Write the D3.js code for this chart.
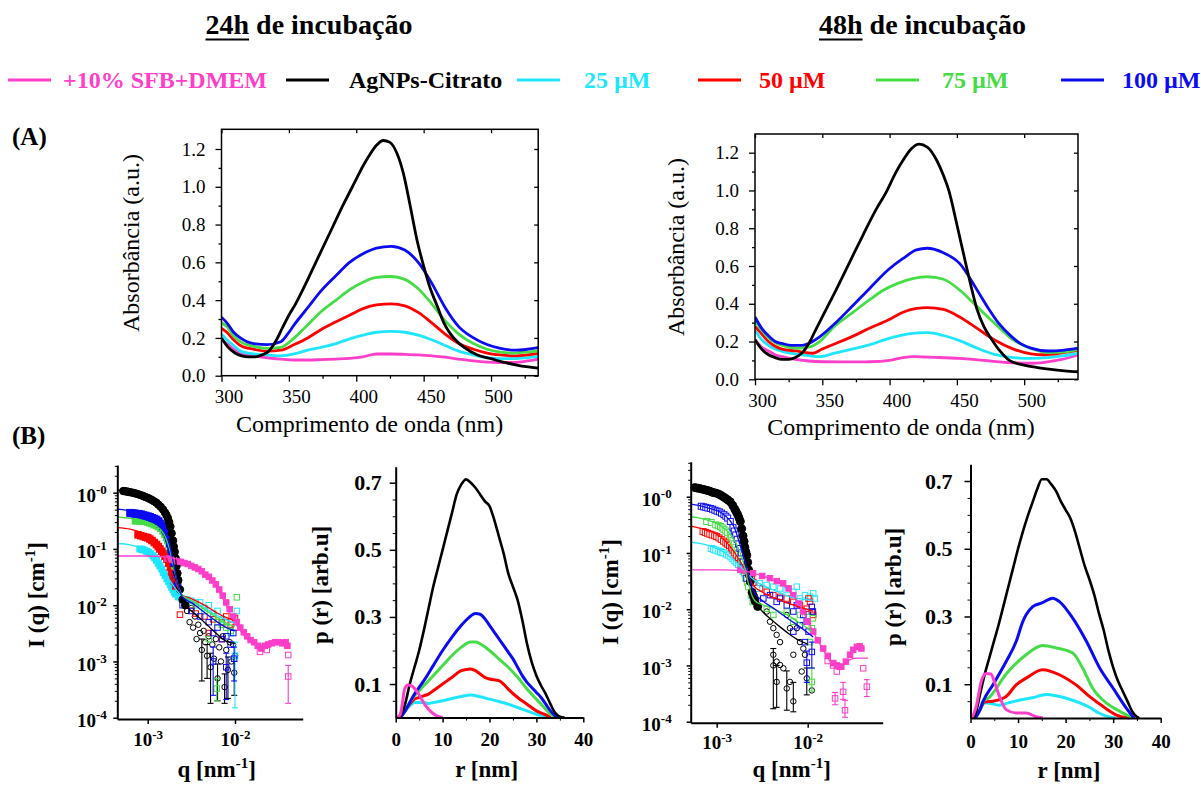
<!DOCTYPE html>
<html lang="pt">
<head>
<meta charset="utf-8">
<title>AgNPs UV-Vis e SAXS</title>
<script src="https://cdn.jsdelivr.net/npm/d3@7/dist/d3.min.js"></script>
<style>
html,body{margin:0;padding:0;background:#fff;}
svg{display:block;}
text{font-family:"Liberation Serif","Times New Roman",Times,serif;}
</style>
</head>
<body>
<svg id="chart" width="1201" height="785" xmlns="http://www.w3.org/2000/svg"></svg>
<script>
// ---------------- series / labels ----------------
const seriesLabels = ["+10% SFB+DMEM", "AgNPs-Citrato", "25 µM", "50 µM", "75 µM", "100 µM"];
const seriesColors = ["#ff3ec9", "#000000", "#1ee6ff", "#ff0000", "#45dc45", "#0c0cf2"];
const titleHours = ["24h", "48h"];
const titleRest = " de incubação";
const panelLetters = ["(A)", "(B)"];
const uvXLabel = "Comprimento de onda (nm)";
const uvYLabel = "Absorbância (a.u.)";

// ---------------- ticks ----------------
const absTicks = [0, 0.2, 0.4, 0.6, 0.8, 1.0, 1.2];
const absTickLabels = ["0.0", "0.2", "0.4", "0.6", "0.8", "1.0", "1.2"];
const wlTicks = [300, 350, 400, 450, 500];
const iqTicksY = [1, 0.1, 0.01, 0.001, 0.0001];
const iqTickExpY = ["-0", "-1", "-2", "-3", "-4"];
const qTicks = [0.001, 0.01];
const qTickExp = ["-3", "-2"];
const prTicksY = [0.1, 0.3, 0.5, 0.7];
const rTicks = [0, 10, 20, 30, 40];

// ---------------- (A) UV-Vis, 24h : [wavelength nm, absorbance] ----------------
const uv24Pink = [[300,0.19],[304,0.17],[309,0.14],[314,0.12],[324,0.105],[334,0.095],[344,0.088],[354,0.083],[364,0.083],[374,0.085],[385,0.088],[395,0.092],[405,0.1],[415,0.115],[426,0.115],[436,0.113],[446,0.11],[456,0.105],[466,0.098],[476,0.088],[487,0.078],[497,0.072],[507,0.07],[517,0.07],[527,0.078],[535,0.088]];
const uv24Black = [[300,0.2],[305,0.15],[310,0.12],[315,0.105],[320,0.1],[325,0.1],[330,0.11],[335,0.13],[340,0.18],[345,0.25],[350,0.32],[355,0.38],[360,0.45],[370,0.6],[380,0.75],[390,0.9],[400,1.04],[405,1.11],[410,1.17],[415,1.22],[420,1.245],[425,1.235],[430,1.18],[435,1.07],[440,0.9],[445,0.72],[450,0.58],[455,0.46],[460,0.37],[465,0.28],[470,0.22],[475,0.18],[480,0.15],[490,0.11],[500,0.09],[510,0.07],[520,0.055],[535,0.04]];
const uv24Cyan = [[300,0.22],[304,0.19],[309,0.16],[314,0.13],[324,0.115],[334,0.11],[344,0.105],[354,0.115],[364,0.135],[374,0.15],[385,0.17],[395,0.195],[405,0.215],[415,0.23],[426,0.235],[436,0.23],[446,0.215],[456,0.19],[466,0.16],[476,0.13],[487,0.11],[497,0.095],[507,0.09],[517,0.09],[527,0.095],[535,0.102]];
const uv24Red = [[300,0.25],[304,0.23],[309,0.19],[314,0.16],[324,0.14],[334,0.13],[344,0.135],[354,0.165],[364,0.2],[374,0.245],[385,0.285],[395,0.32],[405,0.355],[415,0.375],[426,0.38],[436,0.37],[446,0.335],[456,0.28],[466,0.22],[476,0.17],[487,0.14],[497,0.12],[507,0.11],[517,0.105],[527,0.11],[535,0.118]];
const uv24Green = [[300,0.28],[304,0.26],[309,0.21],[314,0.18],[324,0.155],[334,0.145],[344,0.15],[354,0.2],[364,0.27],[374,0.34],[385,0.4],[395,0.455],[405,0.495],[415,0.52],[426,0.525],[436,0.51],[446,0.46],[456,0.38],[466,0.29],[476,0.22],[487,0.17],[497,0.14],[507,0.125],[517,0.12],[527,0.125],[535,0.132]];
const uv24Blue = [[300,0.31],[304,0.28],[309,0.23],[314,0.2],[319,0.18],[324,0.17],[334,0.165],[344,0.18],[349,0.22],[354,0.27],[364,0.36],[374,0.45],[385,0.53],[395,0.6],[405,0.645],[415,0.675],[426,0.685],[436,0.665],[446,0.6],[456,0.49],[466,0.36],[476,0.26],[487,0.2],[497,0.165],[507,0.145],[517,0.135],[527,0.14],[535,0.148]];

// ---------------- (A) UV-Vis, 48h ----------------
const uv48Pink = [[300,0.21],[305,0.17],[310,0.15],[315,0.13],[320,0.12],[330,0.105],[340,0.097],[350,0.093],[365,0.092],[385,0.093],[400,0.1],[410,0.115],[418,0.12],[430,0.117],[452,0.111],[470,0.1],[492,0.087],[505,0.085],[515,0.09],[528,0.105],[540,0.13]];
const uv48Black = [[300,0.21],[305,0.16],[310,0.13],[315,0.115],[320,0.105],[325,0.105],[330,0.115],[335,0.14],[340,0.19],[345,0.26],[350,0.33],[360,0.47],[371,0.63],[380,0.76],[390,0.9],[397,0.985],[405,1.1],[410,1.16],[416,1.22],[422,1.245],[428,1.23],[435,1.16],[440,1.08],[444,1.0],[450,0.82],[457,0.6],[462,0.45],[465,0.37],[470,0.28],[476,0.21],[482,0.15],[489,0.1],[500,0.075],[510,0.062],[520,0.052],[530,0.045],[540,0.04]];
const uv48Cyan = [[300,0.26],[305,0.21],[310,0.18],[315,0.16],[325,0.14],[335,0.13],[348,0.12],[360,0.14],[372,0.16],[385,0.182],[399,0.215],[414,0.24],[428,0.247],[440,0.232],[452,0.205],[465,0.165],[478,0.132],[492,0.115],[505,0.111],[518,0.115],[530,0.125],[540,0.138]];
const uv48Red = [[300,0.28],[305,0.24],[310,0.2],[315,0.175],[320,0.16],[330,0.15],[343,0.138],[350,0.16],[360,0.19],[372,0.226],[385,0.27],[399,0.314],[410,0.355],[420,0.375],[428,0.38],[440,0.37],[452,0.33],[465,0.27],[478,0.208],[492,0.16],[505,0.135],[515,0.13],[528,0.14],[540,0.155]];
const uv48Green = [[300,0.31],[305,0.26],[310,0.22],[315,0.195],[320,0.18],[332,0.164],[340,0.17],[348,0.2],[359,0.28],[372,0.35],[385,0.42],[395,0.47],[406,0.508],[418,0.535],[428,0.543],[440,0.53],[452,0.473],[465,0.385],[478,0.297],[492,0.208],[505,0.164],[518,0.141],[530,0.145],[540,0.159]];
const uv48Blue = [[300,0.33],[305,0.27],[310,0.23],[315,0.2],[320,0.19],[327,0.18],[335,0.18],[340,0.19],[348,0.225],[360,0.3],[372,0.385],[385,0.48],[399,0.58],[410,0.64],[420,0.685],[428,0.694],[440,0.67],[452,0.614],[465,0.473],[473,0.38],[481,0.297],[490,0.23],[497,0.19],[505,0.165],[518,0.15],[530,0.155],[540,0.165]];

// ---------------- (B) SAXS I(q), 24h : [q nm-1, I cm-1] ----------------
const iqFit24Pink = [[4.5e-4,0.075],[1.0e-3,0.075],[1.58e-3,0.072],[2.0e-3,0.068],[2.8e-3,0.058],[4.0e-3,0.043],[5.6e-3,0.026],[7.1e-3,0.014],[8.9e-3,0.0068],[1.12e-2,0.0037],[1.41e-2,0.0024],[1.78e-2,0.0019],[2.1e-2,0.0018],[2.5e-2,0.002],[3.2e-2,0.0021],[4.0e-2,0.0021]];
const iqFit24Black = [[4.5e-4,1.12],[6.3e-4,1.04],[8.9e-4,0.88],[1.12e-3,0.75],[1.41e-3,0.56],[1.58e-3,0.44],[1.78e-3,0.28],[1.95e-3,0.14],[2.1e-3,0.06],[2.3e-3,0.022],[2.5e-3,0.013],[2.8e-3,0.0095],[3.2e-3,0.0078],[4.0e-3,0.0058],[5.0e-3,0.0042],[6.3e-3,0.003],[7.9e-3,0.0023],[1.0e-2,0.0021]];
const iqFit24Cyan = [[4.5e-4,0.125],[6.3e-4,0.118],[8.9e-4,0.1],[1.12e-3,0.08],[1.41e-3,0.052],[1.78e-3,0.028],[2.24e-3,0.017],[2.8e-3,0.013],[3.5e-3,0.011],[4.5e-3,0.009],[5.6e-3,0.0072],[7.0e-3,0.006],[1.0e-2,0.0048]];
const iqFit24Red = [[4.5e-4,0.24],[6.3e-4,0.225],[8.9e-4,0.19],[1.12e-3,0.155],[1.41e-3,0.105],[1.78e-3,0.05],[2.0e-3,0.03],[2.24e-3,0.02],[2.5e-3,0.015],[3.2e-3,0.013],[4.0e-3,0.011],[5.0e-3,0.009],[6.3e-3,0.0072],[8.0e-3,0.006],[1.0e-2,0.0053]];
const iqFit24Green = [[4.5e-4,0.37],[6.3e-4,0.35],[8.9e-4,0.32],[1.12e-3,0.28],[1.41e-3,0.22],[1.58e-3,0.17],[1.78e-3,0.1],[2.0e-3,0.045],[2.24e-3,0.022],[2.5e-3,0.015],[3.2e-3,0.012],[4.0e-3,0.0095],[5.0e-3,0.0075],[6.3e-3,0.006],[8.0e-3,0.0048],[1.0e-2,0.0042]];
const iqFit24Blue = [[4.5e-4,0.51],[5.6e-4,0.49],[7.1e-4,0.46],[8.9e-4,0.42],[1.12e-3,0.36],[1.41e-3,0.27],[1.58e-3,0.2],[1.78e-3,0.12],[2.0e-3,0.05],[2.24e-3,0.022],[2.5e-3,0.014],[3.2e-3,0.011],[4.0e-3,0.0085],[5.0e-3,0.0065],[6.3e-3,0.005],[8.0e-3,0.004],[1.0e-2,0.0035]];

const iqDense24Pink = [[1.66e-3,0.0676],[1.82e-3,0.0646],[2.0e-3,0.063],[2.19e-3,0.06],[2.4e-3,0.059],[2.63e-3,0.056],[2.88e-3,0.054],[3.16e-3,0.05],[3.47e-3,0.047],[3.8e-3,0.044],[4.17e-3,0.04],[4.57e-3,0.035],[5.01e-3,0.032],[5.5e-3,0.0275],[6.03e-3,0.0234],[6.6e-3,0.019],[7.24e-3,0.0148],[7.94e-3,0.0112],[8.7e-3,0.0085],[9.55e-3,0.0063],[1.05e-2,0.005],[1.15e-2,0.004],[1.26e-2,0.0033],[1.38e-2,0.0028],[1.51e-2,0.0024],[1.66e-2,0.0022],[1.82e-2,0.0019],[2.0e-2,0.0017],[2.19e-2,0.0019],[2.4e-2,0.002],[2.63e-2,0.0021],[2.88e-2,0.0022],[3.16e-2,0.0022],[3.47e-2,0.0021],[3.8e-2,0.0022],[3.98e-2,0.0019]];
const iqDense24Black = [[5.25e-4,1.07],[5.5e-4,1.06],[5.75e-4,1.05],[6.0e-4,1.035],[6.31e-4,1.02],[6.7e-4,1.0],[7.08e-4,0.98],[7.5e-4,0.955],[7.94e-4,0.93],[8.4e-4,0.9],[8.91e-4,0.87],[9.4e-4,0.84],[1.0e-3,0.81],[1.06e-3,0.775],[1.12e-3,0.74],[1.19e-3,0.7],[1.26e-3,0.66],[1.33e-3,0.61],[1.41e-3,0.56],[1.5e-3,0.5],[1.58e-3,0.44],[1.64e-3,0.4],[1.7e-3,0.355],[1.76e-3,0.3],[1.82e-3,0.25],[1.88e-3,0.19],[1.95e-3,0.141],[1.99e-3,0.11],[2.04e-3,0.089],[2.09e-3,0.068],[2.14e-3,0.05],[2.19e-3,0.037],[2.24e-3,0.028],[2.34e-3,0.019],[2.51e-3,0.0126],[2.69e-3,0.01]];
const iqDense24Cyan = [[8.13e-4,0.1],[8.6e-4,0.098],[9.12e-4,0.0955],[9.7e-4,0.091],[1.02e-3,0.087],[1.08e-3,0.082],[1.15e-3,0.076],[1.2e-3,0.07],[1.26e-3,0.063],[1.32e-3,0.056],[1.38e-3,0.05],[1.45e-3,0.044],[1.51e-3,0.038],[1.58e-3,0.034],[1.66e-3,0.0295],[1.74e-3,0.026],[1.82e-3,0.0234],[1.88e-3,0.021],[1.95e-3,0.019],[2.02e-3,0.017],[2.09e-3,0.0158],[2.24e-3,0.0141]];
const iqDense24Red = [[7.76e-4,0.178],[8.32e-4,0.172],[8.91e-4,0.166],[9.5e-4,0.162],[1.0e-3,0.158],[1.06e-3,0.15],[1.12e-3,0.141],[1.19e-3,0.13],[1.26e-3,0.12],[1.32e-3,0.11],[1.38e-3,0.1],[1.45e-3,0.091],[1.51e-3,0.083],[1.58e-3,0.074],[1.66e-3,0.066],[1.74e-3,0.056],[1.82e-3,0.047],[1.88e-3,0.039],[1.95e-3,0.032],[2.02e-3,0.027],[2.09e-3,0.022]];
const iqDense24Green = [[7.24e-4,0.316],[7.76e-4,0.316],[8.32e-4,0.316],[9.1e-4,0.31],[1.0e-3,0.302],[1.06e-3,0.292],[1.12e-3,0.282],[1.19e-3,0.272],[1.26e-3,0.263],[1.33e-3,0.25],[1.41e-3,0.234],[1.5e-3,0.21],[1.58e-3,0.182],[1.64e-3,0.16],[1.7e-3,0.141],[1.76e-3,0.12],[1.82e-3,0.1],[1.91e-3,0.071],[2.0e-3,0.05],[2.09e-3,0.035],[2.19e-3,0.025]];
const iqDense24Blue = [[6.31e-4,0.437],[6.7e-4,0.43],[7.08e-4,0.427],[7.5e-4,0.42],[7.94e-4,0.417],[8.4e-4,0.41],[8.91e-4,0.398],[9.4e-4,0.39],[1.0e-3,0.38],[1.06e-3,0.37],[1.12e-3,0.355],[1.19e-3,0.345],[1.26e-3,0.331],[1.33e-3,0.31],[1.41e-3,0.282],[1.5e-3,0.255],[1.58e-3,0.229],[1.64e-3,0.205],[1.7e-3,0.182],[1.75e-3,0.155],[1.8e-3,0.126],[1.86e-3,0.1],[1.91e-3,0.079],[2.0e-3,0.056],[2.09e-3,0.035],[2.19e-3,0.024]];

const iqSparse24Pink = [[1.93e-2,1.48e-3],[2.31e-2,1.6e-3],[4.07e-2,1.3e-3]];
const iqSparse24Black = [[2.82e-3,7.9e-3],[3.02e-3,5.0e-3],[3.16e-3,8.9e-3],[3.31e-3,4.0e-3],[3.47e-3,6.3e-3],[3.63e-3,2.5e-3],[3.8e-3,4.5e-3],[3.98e-3,3.2e-3],[4.37e-3,3.5e-3],[4.57e-3,2.2e-3],[5.0e-3,2.8e-3],[5.5e-3,2.0e-3],[5.75e-3,1.12e-3],[6.03e-3,2.5e-3],[6.6e-3,1.78e-3],[6.9e-3,1.0e-3],[7.24e-3,2.8e-3],[7.94e-3,1.6e-3],[8.7e-3,2.2e-3],[9.1e-3,1.0e-3],[9.5e-3,2.0e-3],[1.0e-2,1.26e-3]];
const iqSparse24Cyan = [[2.4e-3,1.32e-2],[2.82e-3,1.26e-2],[3.16e-3,1.2e-2],[3.55e-3,1.12e-2],[3.98e-3,1.12e-2],[4.47e-3,8.9e-3],[5.01e-3,1.0e-2],[5.62e-3,7.1e-3],[6.31e-3,7.9e-3],[7.08e-3,5.6e-3],[7.94e-3,5.0e-3],[8.91e-3,3.2e-3],[1.05e-2,7.9e-3]];
const iqSparse24Red = [[2.34e-3,6.8e-3],[3.16e-3,1.0e-2],[3.55e-3,7.1e-3],[4.47e-3,6.3e-3],[5.62e-3,5.6e-3],[7.08e-3,5.0e-3],[7.94e-3,6.3e-3],[8.91e-3,4.5e-3],[1.0e-2,5.9e-3],[1.0e-2,4.0e-3],[5.01e-3,3.2e-3],[7.08e-3,2.5e-3]];
const iqSparse24Green = [[2.82e-3,1.12e-2],[3.55e-3,1.0e-2],[4.47e-3,7.9e-3],[5.62e-3,6.3e-3],[6.31e-3,5.0e-3],[7.08e-3,4.5e-3],[7.94e-3,4.0e-3],[8.91e-3,3.5e-3],[1.05e-2,1.38e-2],[5.01e-3,2.5e-3]];
const iqSparse24Blue = [[2.51e-3,1.0e-2],[3.16e-3,7.9e-3],[3.98e-3,6.3e-3],[5.01e-3,5.0e-3],[5.62e-3,3.2e-3],[6.31e-3,4.0e-3],[7.08e-3,2.5e-3],[7.94e-3,2.8e-3],[8.91e-3,2.0e-3],[9.55e-3,3.2e-3]];
// error bars : [q, I, low, high]
const iqErr24Pink = [[4.07e-2,5.4e-4,1.8e-4,8.5e-4]];
const iqErr24Black = [[4.17e-3,1.6e-3,4.5e-4,2.5e-3],[4.79e-3,1.26e-3,5.0e-4,2.0e-3],[5.25e-3,7.9e-4,1.8e-4,1.4e-3],[6.31e-3,5.0e-4,2.0e-4,9.0e-4],[7.6e-3,3.5e-4,1.8e-4,6.0e-4],[8.3e-3,7.1e-4,2.2e-4,1.2e-3],[9.8e-3,6.3e-4,2.5e-4,1.0e-3]];
const iqErr24Cyan = [[1.0e-2,1.26e-3,1.5e-4,2.2e-3]];
const iqErr24Red = [];
const iqErr24Green = [[6.17e-3,3.3e-4,2.0e-4,5.0e-4]];
const iqErr24Blue = [[5.62e-3,1.0e-3,2.5e-4,1.8e-3],[7.94e-3,7.9e-4,2.1e-4,1.4e-3],[9.77e-3,1.12e-3,4.5e-4,1.8e-3]];

// ---------------- (B) SAXS I(q), 48h ----------------
const iqFit48Pink = [[5.2e-4,0.05],[1.2e-3,0.05],[1.82e-3,0.049],[2.5e-3,0.044],[3.2e-3,0.039],[4.0e-3,0.034],[5.0e-3,0.029],[6.3e-3,0.022],[7.9e-3,0.013],[1.0e-2,0.0062],[1.26e-2,0.003],[1.58e-2,0.0016],[1.91e-2,0.001],[2.19e-2,0.00095],[2.6e-2,0.0011],[3.0e-2,0.0013],[3.5e-2,0.00135],[4.1e-2,0.00135],[4.6e-2,0.00135]];
const iqFit48Black = [[5.2e-4,1.47],[7.1e-4,1.36],[1.0e-3,1.15],[1.26e-3,0.93],[1.41e-3,0.8],[1.58e-3,0.6],[1.78e-3,0.4],[1.95e-3,0.2],[2.14e-3,0.09],[2.34e-3,0.03],[2.6e-3,0.015],[3.2e-3,0.009],[4.0e-3,0.0065],[5.0e-3,0.0048],[6.3e-3,0.0036],[8.0e-3,0.0028],[1.0e-2,0.0024]];
const iqFit48Cyan = [[5.2e-4,0.155],[6.3e-4,0.15],[8.9e-4,0.13],[1.12e-3,0.11],[1.41e-3,0.085],[1.78e-3,0.06],[2.24e-3,0.04],[2.8e-3,0.03],[3.5e-3,0.025],[4.5e-3,0.021],[5.6e-3,0.018],[7.0e-3,0.016],[9.0e-3,0.015],[1.15e-2,0.0145]];
const iqFit48Red = [[5.2e-4,0.3],[6.3e-4,0.28],[8.9e-4,0.24],[1.12e-3,0.19],[1.41e-3,0.13],[1.78e-3,0.075],[2.24e-3,0.038],[2.5e-3,0.027],[3.2e-3,0.02],[4.0e-3,0.0165],[5.0e-3,0.0145],[6.3e-3,0.0125],[8.0e-3,0.011],[1.15e-2,0.0092]];
const iqFit48Green = [[5.2e-4,0.44],[6.3e-4,0.42],[8.9e-4,0.36],[1.12e-3,0.3],[1.41e-3,0.215],[1.78e-3,0.11],[2.0e-3,0.06],[2.24e-3,0.028],[2.5e-3,0.016],[2.8e-3,0.013],[3.2e-3,0.012],[4.0e-3,0.0105],[5.0e-3,0.009],[6.3e-3,0.0075],[8.0e-3,0.0058],[1.15e-2,0.004]];
const iqFit48Blue = [[5.2e-4,0.74],[6.3e-4,0.7],[8.9e-4,0.6],[1.12e-3,0.52],[1.41e-3,0.37],[1.58e-3,0.27],[1.78e-3,0.15],[2.0e-3,0.08],[2.24e-3,0.04],[2.5e-3,0.022],[3.2e-3,0.014],[4.0e-3,0.011],[5.0e-3,0.0085],[6.3e-3,0.0065],[8.0e-3,0.005],[1.15e-2,0.0032]];

const iqDense48Pink = [[1.82e-3,0.05],[2.09e-3,0.0479],[2.51e-3,0.0437],[3.16e-3,0.0389],[3.85e-3,0.0355],[4.57e-3,0.0316],[5.37e-3,0.0288],[6.17e-3,0.0234],[6.92e-3,0.0178],[7.94e-3,0.0126],[8.91e-3,0.0091],[1.0e-2,0.006],[1.15e-2,0.004],[1.29e-2,0.0028],[1.48e-2,0.002],[1.66e-2,0.00148],[1.91e-2,0.0011],[2.09e-2,0.001],[2.34e-2,0.00095],[2.63e-2,0.00117],[2.92e-2,0.00155],[3.16e-2,0.0019],[3.47e-2,0.00214],[3.72e-2,0.00219],[3.89e-2,0.002]];
const iqDense48Black = [[5.75e-4,1.45],[6.0e-4,1.43],[6.31e-4,1.41],[6.7e-4,1.38],[7.08e-4,1.35],[7.5e-4,1.32],[7.94e-4,1.29],[8.4e-4,1.25],[8.91e-4,1.2],[9.4e-4,1.18],[1.0e-3,1.15],[1.06e-3,1.1],[1.12e-3,1.05],[1.19e-3,0.99],[1.26e-3,0.93],[1.33e-3,0.87],[1.41e-3,0.81],[1.5e-3,0.7],[1.58e-3,0.6],[1.64e-3,0.54],[1.7e-3,0.48],[1.76e-3,0.42],[1.82e-3,0.363],[1.88e-3,0.27],[1.95e-3,0.2],[2.0e-3,0.16],[2.04e-3,0.126],[2.09e-3,0.105],[2.14e-3,0.091],[2.19e-3,0.068],[2.24e-3,0.05],[2.29e-3,0.04],[2.34e-3,0.031],[2.45e-3,0.02],[2.54e-3,0.017],[2.63e-3,0.0141],[2.82e-3,0.0112]];
const iqDense48Cyan = [[8.71e-4,0.12],[9.2e-4,0.116],[9.77e-4,0.112],[1.04e-3,0.108],[1.1e-3,0.105],[1.15e-3,0.102],[1.2e-3,0.1],[1.28e-3,0.095],[1.35e-3,0.091],[1.43e-3,0.085],[1.51e-3,0.079],[1.58e-3,0.073],[1.66e-3,0.068],[1.74e-3,0.062],[1.82e-3,0.056],[1.88e-3,0.051],[1.95e-3,0.047],[2.04e-3,0.042],[2.14e-3,0.037],[2.24e-3,0.034],[2.34e-3,0.031],[2.45e-3,0.028],[2.57e-3,0.026],[2.75e-3,0.0234]];
const iqDense48Red = [[7.08e-4,0.24],[7.5e-4,0.232],[7.94e-4,0.224],[8.4e-4,0.216],[8.91e-4,0.209],[9.5e-4,0.202],[1.0e-3,0.195],[1.06e-3,0.185],[1.12e-3,0.174],[1.19e-3,0.162],[1.26e-3,0.151],[1.32e-3,0.143],[1.38e-3,0.135],[1.45e-3,0.123],[1.51e-3,0.112],[1.58e-3,0.1],[1.66e-3,0.091],[1.74e-3,0.083],[1.82e-3,0.076],[1.91e-3,0.068],[2.0e-3,0.06],[2.07e-3,0.055],[2.14e-3,0.05],[2.24e-3,0.045],[2.34e-3,0.04],[2.42e-3,0.035],[2.51e-3,0.03]];
const iqDense48Green = [[7.76e-4,0.363],[8.71e-4,0.347],[9.77e-4,0.316],[1.04e-3,0.305],[1.1e-3,0.295],[1.15e-3,0.28],[1.2e-3,0.263],[1.26e-3,0.245],[1.32e-3,0.229],[1.41e-3,0.209],[1.46e-3,0.19],[1.51e-3,0.166],[1.56e-3,0.145],[1.62e-3,0.126],[1.68e-3,0.112],[1.74e-3,0.1],[1.82e-3,0.091],[1.88e-3,0.07],[1.95e-3,0.056],[2.02e-3,0.045],[2.09e-3,0.0355],[2.17e-3,0.03],[2.24e-3,0.025],[2.4e-3,0.0178],[2.51e-3,0.0135]];
const iqDense48Blue = [[6.76e-4,0.676],[7.17e-4,0.66],[7.59e-4,0.646],[8.0e-4,0.63],[8.51e-4,0.617],[9.0e-4,0.6],[9.55e-4,0.575],[1.01e-3,0.555],[1.07e-3,0.537],[1.13e-3,0.51],[1.2e-3,0.479],[1.26e-3,0.45],[1.32e-3,0.417],[1.41e-3,0.363],[1.51e-3,0.282],[1.56e-3,0.245],[1.62e-3,0.209],[1.68e-3,0.175],[1.74e-3,0.145],[1.8e-3,0.12],[1.86e-3,0.1],[1.95e-3,0.069],[2.04e-3,0.05],[2.14e-3,0.0355]];

const iqSparse48Pink = [[1.66e-2,1.2e-3],[1.9e-2,1.0e-3],[2.09e-2,7.8e-4],[2.24e-2,9.5e-4],[4.07e-2,8.9e-4]];
const iqSparse48Black = [[3.55e-3,9.1e-3],[3.85e-3,6.0e-3],[4.19e-3,4.6e-3],[4.56e-3,3.5e-3],[4.97e-3,2.6e-3],[5.89e-3,7.9e-3],[6.38e-3,4.6e-3],[6.95e-3,1.55e-3],[4.97e-3,1.02e-3],[5.4e-3,8.9e-4],[6.38e-3,5.1e-4],[1.11e-2,3.6e-4],[8.22e-3,2.6e-3],[8.95e-3,2.0e-3],[7.59e-3,4.6e-3],[4.19e-3,1.55e-3],[4.56e-3,1.17e-3],[8.59e-3,7.8e-4],[9.33e-3,1.55e-3]];
const iqSparse48Cyan = [[2.99e-3,2.88e-2],[3.55e-3,2.69e-2],[4.19e-3,2.51e-2],[4.97e-3,2.34e-2],[5.89e-3,2.19e-2],[6.95e-3,2.04e-2],[8.22e-3,1.55e-2],[9.33e-3,1.78e-2],[1.06e-2,1.66e-2],[1.15e-2,1.91e-2],[1.2e-2,1.55e-2],[7.59e-3,2.51e-2]];
const iqSparse48Red = [[2.99e-3,2.34e-2],[3.55e-3,2.04e-2],[4.19e-3,1.78e-2],[4.97e-3,1.66e-2],[5.89e-3,1.55e-2],[6.95e-3,1.35e-2],[8.22e-3,1.17e-2],[9.77e-3,1.02e-2],[1.06e-2,1.35e-2],[1.11e-2,9.1e-3],[1.15e-2,7.9e-3],[1.02e-2,1.55e-2]];
const iqSparse48Green = [[3.55e-3,1.02e-2],[5.89e-3,9.1e-3],[8.22e-3,7.9e-3],[9.77e-3,9.1e-3],[1.14e-2,6.9e-3],[1.11e-2,4.6e-3],[1.06e-2,2.6e-3],[6.95e-3,6.0e-3],[4.19e-3,7.9e-3]];
const iqSparse48Blue = [[3.25e-3,1.55e-2],[3.85e-3,1.78e-2],[4.56e-3,1.35e-2],[4.97e-3,1.55e-2],[5.89e-3,1.17e-2],[6.95e-3,9.1e-3],[7.59e-3,1.17e-2],[8.95e-3,7.9e-3],[9.77e-3,6.0e-3],[1.11e-2,1.1e-2],[1.14e-2,9.1e-3],[1.02e-2,4.0e-3],[9.33e-3,2.6e-3],[6.95e-3,4.0e-3],[8.22e-3,5.2e-3]];
const iqErr48Pink = [[2.0e-2,2.6e-4,2.0e-4,3.3e-4],[2.45e-2,3.4e-4,2.5e-4,5.0e-4],[2.57e-2,1.6e-4,1.2e-4,2.4e-4],[4.47e-2,4.2e-4,2.8e-4,5.6e-4]];
const iqErr48Black = [[4.19e-3,1.0e-3,1.7e-4,2.0e-3],[4.56e-3,5.1e-4,1.8e-4,1.0e-3],[5.89e-3,3.9e-4,1.6e-4,8.0e-4],[6.95e-3,2.3e-4,1.5e-4,5.0e-4],[9.77e-3,5.9e-4,3.0e-4,9.0e-4]];
const iqErr48Cyan = [];
const iqErr48Red = [];
const iqErr48Green = [[1.11e-2,5.1e-4,3.5e-4,9.0e-4]];
const iqErr48Blue = [[1.11e-2,1.74e-3,9.0e-4,2.6e-3],[9.77e-3,1.12e-3,5.0e-4,1.8e-3]];

// ---------------- (B) p(r), 24h : [r nm, p(r)] ----------------
const pr24Pink = [[0.3,0],[1,0.01],[1.5,0.05],[1.9,0.085],[2.6,0.097],[3.3,0.095],[4,0.087],[5,0.068],[5.8,0.048],[7,0.025],[7.9,0.013],[9,0.004],[10,0]];
const pr24Black = [[0.5,0],[1,0.005],[2,0.04],[3,0.1],[4,0.15],[5,0.2],[6,0.26],[7,0.325],[8,0.39],[9,0.445],[10,0.5],[11,0.555],[12,0.61],[13,0.665],[14,0.695],[15,0.71],[16,0.7],[17,0.685],[18,0.665],[19,0.645],[20,0.63],[21,0.59],[22,0.54],[23,0.49],[24,0.43],[25,0.39],[26,0.35],[27,0.29],[28,0.22],[29,0.165],[30,0.125],[31,0.095],[32,0.07],[33,0.04],[34,0.014],[35,0.003],[36,0]];
const pr24Cyan = [[1,0],[2,0.02],[3,0.035],[4,0.045],[5,0.045],[6,0.045],[7,0.042],[8,0.045],[10,0.05],[12,0.057],[14,0.063],[16,0.067],[18,0.062],[20,0.055],[22,0.048],[24,0.04],[26,0.03],[28,0.02],[30,0.01],[32,0.003],[33,0]];
const pr24Red = [[1,0],[2,0.02],[3,0.04],[4,0.055],[5,0.06],[6,0.065],[7,0.07],[8,0.08],[10,0.1],[12,0.12],[14,0.14],[16,0.145],[17,0.14],[18,0.13],[19,0.12],[20,0.115],[22,0.11],[23,0.1],[24,0.085],[26,0.06],[28,0.04],[30,0.02],[32,0.008],[33,0]];
const pr24Green = [[1,0],[2,0.02],[3,0.045],[4,0.065],[5,0.08],[6,0.095],[8,0.125],[10,0.155],[12,0.185],[14,0.21],[16,0.225],[17,0.225],[18,0.22],[20,0.2],[22,0.175],[24,0.15],[26,0.12],[28,0.085],[30,0.055],[32,0.025],[33,0.01],[34,0]];
const pr24Blue = [[1,0],[2,0.02],[3,0.045],[4,0.07],[5,0.09],[6,0.11],[8,0.155],[10,0.2],[12,0.24],[14,0.275],[15,0.29],[16,0.303],[17,0.31],[18,0.308],[19,0.295],[20,0.275],[21,0.255],[22,0.235],[23,0.215],[24,0.195],[25,0.175],[26,0.15],[27,0.125],[28,0.105],[29,0.09],[30,0.075],[31,0.06],[32,0.04],[33,0.02],[34,0.005],[34.5,0]];

// ---------------- (B) p(r), 48h ----------------
const pr48Pink = [[0.3,0],[1.2,0.034],[2.3,0.11],[3.3,0.132],[4.3,0.13],[5.2,0.1],[6.1,0.064],[7.5,0.025],[9.6,0.015],[11.7,0.015],[13.8,0.004],[15.2,0]];
const pr48Black = [[0.5,0],[1,0.01],[2,0.07],[3,0.13],[4,0.18],[5,0.23],[6,0.28],[7,0.335],[8,0.39],[9,0.445],[10,0.5],[11,0.55],[12,0.595],[13,0.635],[14,0.675],[15,0.705],[16,0.705],[17,0.69],[18,0.67],[19,0.64],[20,0.615],[21,0.59],[22,0.55],[23,0.5],[24,0.45],[25,0.41],[26,0.365],[27,0.31],[28,0.26],[29,0.2],[30,0.15],[31,0.11],[32,0.08],[33,0.05],[34,0.02],[35,0.004],[35.5,0]];
const pr48Cyan = [[1,0],[2,0.025],[3,0.045],[4,0.044],[6,0.038],[8,0.045],[10,0.052],[13,0.06],[16,0.07],[18,0.066],[21,0.055],[23,0.045],[25,0.032],[27,0.015],[29,0.004],[30.5,0]];
const pr48Red = [[1,0],[2,0.025],[3,0.048],[4.7,0.05],[7.5,0.064],[9.6,0.098],[11.7,0.118],[15.2,0.143],[18.7,0.128],[22.2,0.098],[25,0.064],[27.9,0.034],[30.7,0.009],[33.5,0]];
const pr48Green = [[1,0],[2,0.025],[2.6,0.048],[4,0.062],[7.5,0.13],[11.7,0.187],[15.2,0.214],[18,0.207],[21.5,0.192],[23.6,0.147],[25.7,0.088],[28.6,0.044],[31.4,0.02],[33.5,0.004],[34,0]];
const pr48Blue = [[1,0],[2,0.025],[2.6,0.048],[4.7,0.098],[7.5,0.167],[9.6,0.226],[11,0.285],[11.7,0.305],[13.1,0.329],[15,0.34],[17.3,0.354],[18.7,0.344],[21.5,0.295],[24.4,0.226],[27.2,0.147],[30,0.088],[32.8,0.029],[34.2,0.004],[34.5,0]];

// ======================================================================
const svg = d3.select("#chart");
svg.append("rect").attr("width", 1201).attr("height", 785).attr("fill", "#fff");
const defs = svg.append("defs");

// ---------- titles ----------
function drawTitle(x0, hours) {
  const t = svg.append("text").attr("x", x0).attr("y", 34).attr("font-size", 28).attr("font-weight", "bold");
  const h = t.append("tspan").text(hours);
  t.append("tspan").text(titleRest);
  const w = h.node().getComputedTextLength();
  svg.append("line").attr("x1", x0).attr("x2", x0 + w).attr("y1", 39.5).attr("y2", 39.5)
    .attr("stroke", "#000").attr("stroke-width", 2);
}
drawTitle(205.5, titleHours[0]);
drawTitle(819, titleHours[1]);

// ---------- legend ----------
const legendLineX = [8, 286, 517, 698, 876, 1061];
const legendTextX = [63, 349, 584, 759, 942, 1122];
seriesLabels.forEach((s, i) => {
  svg.append("line").attr("x1", legendLineX[i]).attr("x2", legendLineX[i] + 43)
    .attr("y1", 80).attr("y2", 80).attr("stroke", seriesColors[i]).attr("stroke-width", 3);
  svg.append("text").attr("x", legendTextX[i]).attr("y", 88).attr("font-size", 24)
    .attr("font-weight", "bold").attr("fill", seriesColors[i]).text(s);
});

// ---------- panel letters ----------
svg.append("text").attr("x", 12).attr("y", 145).attr("font-size", 25).attr("font-weight", "bold").text(panelLetters[0]);
svg.append("text").attr("x", 12).attr("y", 444).attr("font-size", 25).attr("font-weight", "bold").text(panelLetters[1]);

// ---------- (A) UV-Vis ----------
const uvOrder = [0, 2, 3, 4, 5, 1];
function drawUV(c, curves) {
  const x = d3.scaleLinear().domain([300, c.xmax]).range([c.l, c.r]);
  const y = d3.scaleLinear().domain([0, 1.2]).range([c.b, c.y12]);
  defs.append("clipPath").attr("id", "clip-" + c.id).append("rect")
    .attr("x", c.l).attr("y", c.t).attr("width", c.r - c.l).attr("height", c.b - c.t);
  const g = svg.append("g");
  const line = d3.line().x(d => x(d[0])).y(d => y(d[1])).curve(d3.curveMonotoneX);
  const gc = g.append("g").attr("clip-path", `url(#clip-${c.id})`);
  uvOrder.forEach(i => gc.append("path").attr("d", line(curves[i])).attr("fill", "none")
    .attr("stroke", seriesColors[i]).attr("stroke-width", 2.8).attr("stroke-linejoin", "round"));
  g.append("rect").attr("x", c.l).attr("y", c.t).attr("width", c.r - c.l).attr("height", c.b - c.t)
    .attr("fill", "none").attr("stroke", "#000").attr("stroke-width", 1.5);
  const clean = s => { s.select(".domain").remove(); s.selectAll("line").attr("stroke-width", 1.3); };
  const ay = g.append("g").attr("transform", `translate(${c.l},0)`)
    .call(d3.axisLeft(y).tickValues(absTicks).tickFormat((d, i) => absTickLabels[i]).tickSize(6).tickPadding(10));
  clean(ay); ay.attr("font-size", 19);
  const minorY = absTicks.slice(0, -1).map((v, i) => (v + absTicks[i + 1]) / 2);
  g.append("g").attr("transform", `translate(${c.l},0)`)
    .call(d3.axisLeft(y).tickValues(minorY).tickFormat("").tickSize(3)).call(clean);
  const ax = g.append("g").attr("transform", `translate(0,${c.b})`)
    .call(d3.axisBottom(x).tickValues(wlTicks).tickSize(6).tickPadding(8));
  clean(ax); ax.attr("font-size", 19); ax.selectAll("text").attr("dx", 7);
  const minorX = wlTicks.map(v => v + 25).filter(v => v < c.xmax);
  g.append("g").attr("transform", `translate(0,${c.b})`)
    .call(d3.axisBottom(x).tickValues(minorX).tickFormat("").tickSize(3)).call(clean);
  g.append("g").attr("transform", `translate(${c.r},0)`)
    .call(d3.axisRight(y).tickValues(absTicks).tickFormat("").tickSize(-4)).call(clean);
  g.append("g").attr("transform", `translate(0,${c.t})`)
    .call(d3.axisTop(x).tickValues(wlTicks).tickFormat("").tickSize(-4)).call(clean);
  g.append("text").attr("transform", `translate(${c.ylx},${c.yly}) rotate(-90)`)
    .attr("text-anchor", "middle").attr("font-size", 24).text(uvYLabel);
  g.append("text").attr("x", c.xlx).attr("y", c.xly).attr("text-anchor", "middle")
    .attr("font-size", 24).text(uvXLabel);
}
drawUV({ id: "a24", l: 221.5, r: 538.2, t: 129.3, b: 375.7, y12: 149, xmax: 535, ylx: 139, yly: 243, xlx: 369.6, xly: 431.7 },
  [uv24Pink, uv24Black, uv24Cyan, uv24Red, uv24Green, uv24Blue]);
drawUV({ id: "a48", l: 755, r: 1078, t: 134, b: 379.3, y12: 152.7, xmax: 540, ylx: 684, yly: 247, xlx: 901, xly: 435 },
  [uv48Pink, uv48Black, uv48Cyan, uv48Red, uv48Green, uv48Blue]);

// ---------- (B) SAXS I(q) ----------
function supLabel(sel, base, exp, supSize, shift) {
  sel.append("tspan").text(base);
  sel.append("tspan").attr("dy", -shift).attr("font-size", supSize).text(exp);
}
function drawIQ(c, S) {
  const x = d3.scaleLog().domain([1e-3, 1e-2]).range([c.x3, c.x2]);
  const y = d3.scaleLog().domain([1e-4, 1]).range([c.y4, c.y0]);
  const xe = d3.scaleLog().domain([x.invert(c.ax), x.invert(c.right)]).range([c.ax, c.right]);
  const ye = d3.scaleLog().domain([y.invert(c.ay), y.invert(c.top)]).range([c.ay, c.top]);
  const g = svg.append("g");
  function marks(arr, s, fill, size) {
    const gg = g.append("g");
    if (s.shape === "circle") {
      gg.selectAll("circle").data(arr).join("circle")
        .attr("cx", d => x(d[0])).attr("cy", d => y(d[1])).attr("r", size / 2)
        .attr("fill", fill).attr("stroke", s.color).attr("stroke-width", 1);
    } else {
      gg.selectAll("rect").data(arr).join("rect")
        .attr("x", d => x(d[0]) - size / 2).attr("y", d => y(d[1]) - size / 2)
        .attr("width", size).attr("height", size)
        .attr("fill", fill).attr("stroke", s.color).attr("stroke-width", 1);
    }
  }
  c.sparseOrder.forEach(i => marks(S[i].sparse, S[i], "none", 5.5));
  S.forEach(s => {
    const ge = g.append("g").attr("stroke", s.color).attr("stroke-width", 1.1);
    s.err.forEach(d => {
      const xx = x(d[0]);
      ge.append("line").attr("x1", xx).attr("x2", xx).attr("y1", y(d[2])).attr("y2", y(d[3]));
      ge.append("line").attr("x1", xx - 3).attr("x2", xx + 3).attr("y1", y(d[2])).attr("y2", y(d[2]));
      ge.append("line").attr("x1", xx - 3).attr("x2", xx + 3).attr("y1", y(d[3])).attr("y2", y(d[3]));
    });
    marks(s.err, s, "none", 5.5);
  });
  c.denseOrder.forEach(i => {
    const s = S[i];
    marks(s.dense, s, s.denseFill, s.denseSize);
  });
  const line = d3.line().x(d => x(d[0])).y(d => y(d[1])).curve(d3.curveMonotoneX);
  c.fitOrder.forEach(i => g.append("path").attr("d", line(S[i].fit)).attr("fill", "none")
    .attr("stroke", S[i].color).attr("stroke-width", 1.3));
  const yA = g.append("g").attr("transform", `translate(${c.ax},0)`)
    .call(d3.axisLeft(ye).tickValues(iqTicksY).tickSize(4).tickPadding(c.ypad).tickSizeOuter(0).tickFormat(() => ""));
  yA.select(".domain").attr("stroke-width", 2);
  yA.selectAll("line").attr("stroke-width", 1.5);
  yA.attr("font-size", 19).attr("font-weight", "bold");
  yA.selectAll(".tick text").attr("dy", "0.45em").each(function (d, i) { supLabel(d3.select(this), "10", iqTickExpY[i], 13, 8); });
  const minors = [];
  for (let e = -4; e <= 0; e++) for (let m = 2; m <= 9; m++) { const v = m * Math.pow(10, e); if (v < ye.domain()[1]) minors.push(v); }
  g.append("g").attr("transform", `translate(${c.ax},0)`)
    .call(d3.axisLeft(ye).tickValues(minors).tickSize(2.5).tickFormat(""))
    .call(s => s.select(".domain").remove());
  const xA = g.append("g").attr("transform", `translate(0,${c.ay})`)
    .call(d3.axisBottom(xe).tickValues(qTicks).tickSize(5).tickPadding(c.xpad).tickSizeOuter(0).tickFormat(() => ""));
  xA.select(".domain").attr("stroke-width", 2);
  xA.selectAll("line").attr("stroke-width", 1.5);
  xA.attr("font-size", 19).attr("font-weight", "bold");
  xA.selectAll(".tick text").each(function (d, i) { supLabel(d3.select(this), "10", qTickExp[i], 13, 7); });
  const yl = g.append("text").attr("transform", `translate(${c.ylx},${c.yly}) rotate(-90)`)
    .attr("text-anchor", "middle").attr("font-size", 23).attr("font-weight", "bold");
  yl.append("tspan").text("I (q) [cm");
  yl.append("tspan").attr("dy", -9).attr("font-size", 15).text("-1");
  yl.append("tspan").attr("dy", 9).text("]");
  const xl = g.append("text").attr("x", c.xlx).attr("y", c.xly).attr("text-anchor", "middle")
    .attr("font-size", 23).attr("font-weight", "bold");
  xl.append("tspan").text("q [nm");
  xl.append("tspan").attr("dy", -9).attr("font-size", 15).text("-1");
  xl.append("tspan").attr("dy", 9).text("]");
}
function iqSeries(colorIdx, shape, fit, dense, sparse, err, denseFill, denseSize) {
  return { color: seriesColors[colorIdx], shape, fit, dense, sparse, err, denseFill, denseSize };
}
const S24 = [
  iqSeries(0, "square", iqFit24Pink, iqDense24Pink, iqSparse24Pink, iqErr24Pink, seriesColors[0], 5.5),
  iqSeries(1, "circle", iqFit24Black, iqDense24Black, iqSparse24Black, iqErr24Black, "#000", 7.5),
  iqSeries(2, "square", iqFit24Cyan, iqDense24Cyan, iqSparse24Cyan, iqErr24Cyan, seriesColors[2], 6),
  iqSeries(3, "square", iqFit24Red, iqDense24Red, iqSparse24Red, iqErr24Red, seriesColors[3], 6.5),
  iqSeries(4, "square", iqFit24Green, iqDense24Green, iqSparse24Green, iqErr24Green, seriesColors[4], 6.5),
  iqSeries(5, "square", iqFit24Blue, iqDense24Blue, iqSparse24Blue, iqErr24Blue, seriesColors[5], 7)
];
const S48 = [
  iqSeries(0, "square", iqFit48Pink, iqDense48Pink, iqSparse48Pink, iqErr48Pink, seriesColors[0], 5.5),
  iqSeries(1, "circle", iqFit48Black, iqDense48Black, iqSparse48Black, iqErr48Black, "#000", 8),
  iqSeries(2, "square", iqFit48Cyan, iqDense48Cyan, iqSparse48Cyan, iqErr48Cyan, "#fff", 6),
  iqSeries(3, "square", iqFit48Red, iqDense48Red, iqSparse48Red, iqErr48Red, "#fff", 6),
  iqSeries(4, "square", iqFit48Green, iqDense48Green, iqSparse48Green, iqErr48Green, "#fff", 6),
  iqSeries(5, "square", iqFit48Blue, iqDense48Blue, iqSparse48Blue, iqErr48Blue, "#fff", 6)
];
drawIQ({ x3: 147.7, x2: 235, y0: 492.7, y4: 717.7, ax: 117.3, ay: 719, top: 465, right: 302.7,
  ypad: 6.5, xpad: 9, ylx: 44, yly: 595, xlx: 216.7, xly: 777,
  sparseOrder: [1, 2, 3, 4, 5, 0], denseOrder: [2, 3, 4, 5, 1, 0], fitOrder: [1, 2, 3, 4, 5, 0] }, S24);
drawIQ({ x3: 716.7, x2: 807.7, y0: 496.7, y4: 721.7, ax: 690.7, ay: 722.7, top: 461.7, right: 882.7,
  ypad: 15, xpad: 8, ylx: 618, yly: 592, xlx: 791.7, xly: 777,
  sparseOrder: [1, 2, 3, 4, 5, 0], denseOrder: [2, 3, 4, 5, 1, 0], fitOrder: [1, 2, 3, 4, 5, 0] }, S48);

// ---------- (B) p(r) ----------
const prOrder = [2, 3, 4, 5, 1, 0];
function drawPR(c, curves) {
  const x = d3.scaleLinear().domain([0, 40]).range([c.x0, c.x40]);
  const y = d3.scaleLinear().domain([0, 0.7]).range([c.y0, c.y07]);
  const ye = d3.scaleLinear().domain([0, y.invert(c.top)]).range([c.y0, c.top]);
  const g = svg.append("g");
  const line = d3.line().x(d => x(d[0])).y(d => y(d[1])).curve(d3.curveMonotoneX);
  prOrder.forEach(i => g.append("path").attr("d", line(curves[i])).attr("fill", "none")
    .attr("stroke", seriesColors[i]).attr("stroke-width", i === 1 ? 2.6 : 3).attr("stroke-linejoin", "round"));
  const yA = g.append("g").attr("transform", `translate(${c.x0},0)`)
    .call(d3.axisLeft(ye).tickValues(prTicksY).tickSize(6).tickPadding(c.ypad).tickSizeOuter(0).tickFormat(d3.format(".1f")));
  yA.select(".domain").attr("stroke-width", 2);
  yA.selectAll("line").attr("stroke-width", 1.5);
  yA.attr("font-size", 22).attr("font-weight", "bold");
  const minorY = d3.range(1, 15).map(k => k * 0.05).filter(v => prTicksY.every(t => Math.abs(t - v) > 1e-6));
  g.append("g").attr("transform", `translate(${c.x0},0)`)
    .call(d3.axisLeft(ye).tickValues(minorY).tickSize(3).tickFormat(""))
    .call(s => s.select(".domain").remove());
  const xA = g.append("g").attr("transform", `translate(0,${c.y0})`)
    .call(d3.axisBottom(x).tickValues(rTicks).tickSize(5).tickPadding(c.xpad).tickSizeOuter(0));
  xA.select(".domain").attr("stroke-width", 2);
  xA.selectAll("line").attr("stroke-width", 1.5);
  xA.attr("font-size", 19).attr("font-weight", "bold");
  g.append("g").attr("transform", `translate(0,${c.y0})`)
    .call(d3.axisBottom(x).tickValues(rTicks.slice(0, -1).map(v => v + 5)).tickSize(3).tickFormat(""))
    .call(s => s.select(".domain").remove());
  g.append("text").attr("transform", `translate(${c.ylx},${c.yly}) rotate(-90)`)
    .attr("text-anchor", "middle").attr("font-size", 23).attr("font-weight", "bold").text("p (r) [arb.u]");
  g.append("text").attr("x", c.xlx).attr("y", c.xly).attr("text-anchor", "middle")
    .attr("font-size", 23).attr("font-weight", "bold").text("r [nm]");
}
drawPR({ x0: 395.7, x40: 583.3, y0: 717.6, y07: 482.7, top: 466.7, ypad: 8, xpad: 10, ylx: 328, yly: 585, xlx: 486.7, xly: 776.7 },
  [pr24Pink, pr24Black, pr24Cyan, pr24Red, pr24Green, pr24Blue]);
drawPR({ x0: 970.5, x40: 1160.7, y0: 718.1, y07: 481, top: 464.3, ypad: 12, xpad: 11, ylx: 901, yly: 587, xlx: 1069, xly: 778 },
  [pr48Pink, pr48Black, pr48Cyan, pr48Red, pr48Green, pr48Blue]);
</script>
</body>
</html>
